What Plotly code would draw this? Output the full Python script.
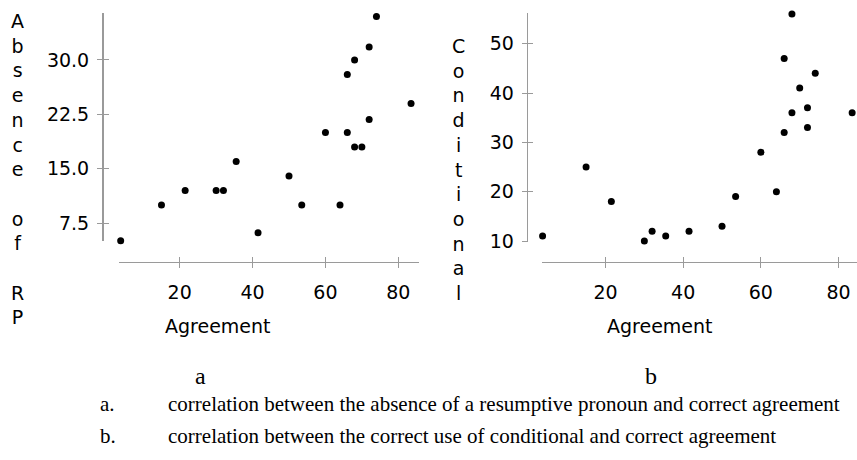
import plotly.graph_objects as go

# ---- data ----
agreement = [3.8, 15, 21.5, 30, 32, 35.5, 41.5, 50, 53.5, 60, 64, 66, 66, 68, 68, 70, 72, 72, 74, 83.5]
absence_rp = [5.1, 10, 12, 12, 12, 16, 6.2, 14, 10, 20, 10, 28, 20, 30, 18, 18, 31.8, 21.8, 36, 24]
conditional = [11, 25, 18, 10, 12, 11, 12, 13, 19, 28, 20, 47, 32, 56, 36, 41, 37, 33, 44, 36]

x_ticks = [20, 40, 60, 80]
y_ticks_a = [7.5, 15, 22.5, 30]
y_ticks_b = [10, 20, 30, 40, 50]

W, H = 857, 460

def px_x(p):
    return p / W

def px_y(p):
    return 1 - p / H

AXIS_GREY = "#9a9a9a"
TICK_FONT = dict(family="DejaVu Sans", size=19, color="#000000")

fig = go.Figure()

marker = dict(color="black", size=7)
fig.add_trace(go.Scatter(x=agreement, y=absence_rp, mode="markers", marker=marker,
                         xaxis="x", yaxis="y", cliponaxis=False, showlegend=False, hoverinfo="x+y"))
fig.add_trace(go.Scatter(x=agreement, y=conditional, mode="markers", marker=marker,
                         xaxis="x2", yaxis="y2", cliponaxis=False, showlegend=False, hoverinfo="x+y"))
# empty traces so overlay axes (inner halves of the crossing ticks) get drawn
fig.add_trace(go.Scatter(x=[], y=[], xaxis="x3", yaxis="y3", showlegend=False))
fig.add_trace(go.Scatter(x=[], y=[], xaxis="x4", yaxis="y4", showlegend=False))

xr_a = [3.34, 85.68]
yr_a = [5.0, 36.476]
xr_b = [3.7, 84.75]
yr_b = [9.858, 56.16]

xdom_a = [px_x(119), px_x(419)]
ydom_a = [px_y(241.4), px_y(13)]
xdom_b = [px_x(542.2), 1.0]
ydom_b = [px_y(241.7), px_y(13.3)]

xpos = px_y(262.3)
ypos_a = px_x(103)
ypos_b = px_x(526.7)

common_x = dict(showgrid=False, zeroline=False, ticks="outside", ticklen=5, tickwidth=1,
                tickcolor=AXIS_GREY, showline=True, linecolor=AXIS_GREY, linewidth=1,
                tickfont=TICK_FONT, anchor="free", position=xpos, tickvals=x_ticks,
                ticklabelstandoff=8)
common_y = dict(showgrid=False, zeroline=False, ticks="outside", ticklen=5, tickwidth=1,
                tickcolor=AXIS_GREY, showline=True, linecolor=AXIS_GREY,
                tickfont=TICK_FONT, anchor="free", ticklabelstandoff=4)

inner_x = dict(showgrid=False, zeroline=False, ticks="inside", ticklen=5, tickwidth=1,
               tickcolor=AXIS_GREY, showline=False, showticklabels=False,
               anchor="free", position=xpos, tickvals=x_ticks)
inner_y = dict(showgrid=False, zeroline=False, ticks="inside", ticklen=5, tickwidth=1,
               tickcolor=AXIS_GREY, showline=False, showticklabels=False, anchor="free")

fig.update_layout(
    width=W, height=H,
    margin=dict(l=0, r=0, t=0, b=0, autoexpand=False),
    paper_bgcolor="white", plot_bgcolor="rgba(0,0,0,0)",
    xaxis=dict(domain=xdom_a, range=xr_a, **common_x),
    yaxis=dict(domain=ydom_a, range=yr_a, position=ypos_a, tickvals=y_ticks_a,
               tickformat=".1f", linewidth=2, **common_y),
    xaxis2=dict(domain=xdom_b, range=xr_b, **common_x),
    yaxis2=dict(domain=ydom_b, range=yr_b, position=ypos_b, tickvals=y_ticks_b,
                linewidth=1, **common_y),
    xaxis3=dict(domain=xdom_a, range=xr_a, overlaying="x", **inner_x),
    yaxis3=dict(domain=ydom_a, range=yr_a, overlaying="y", position=ypos_a,
                tickvals=y_ticks_a, **inner_y),
    xaxis4=dict(domain=xdom_b, range=xr_b, overlaying="x2", **inner_x),
    yaxis4=dict(domain=ydom_b, range=yr_b, overlaying="y2", position=ypos_b,
                tickvals=y_ticks_b, **inner_y),
)

ann_font = dict(family="DejaVu Sans", size=19, color="#000000")
serif_font = dict(family="Liberation Serif", size=21, color="#000000")
label_font = dict(family="Liberation Serif", size=24, color="#000000")

def add_text(text, x, y, font, xanchor="center", yanchor="middle", align="center"):
    fig.add_annotation(text=text, x=x, y=y, xref="paper", yref="paper", showarrow=False,
                       xanchor=xanchor, yanchor=yanchor, align=align, font=font)

nb = "\u00a0"
title_a = "<br>".join(["A", "b", "s", "e", "n", "c", "e", nb, "o", "f", nb, "R", "P"])
title_b = "<br>".join(list("Conditional"))

add_text(title_a, px_x(17.7), px_y(168.7), ann_font)
add_text(title_b, px_x(458.3), px_y(169), ann_font)
add_text("Agreement", px_x(218), px_y(326), ann_font)
add_text("Agreement", px_x(660), px_y(326), ann_font)

add_text("a", px_x(200), px_y(376), label_font)
add_text("b", px_x(651), px_y(376), label_font)

add_text("a.", px_x(98), px_y(404), serif_font, xanchor="left")
add_text("correlation between the absence of a resumptive pronoun and correct agreement",
         px_x(166), px_y(404), serif_font, xanchor="left")
add_text("b.", px_x(98), px_y(436), serif_font, xanchor="left")
add_text("correlation between the correct use of conditional and correct agreement",
         px_x(166), px_y(436), serif_font, xanchor="left")

fig.write_html("out.html",
               config={"displayModeBar": False},
               post_script="document.body.style.margin='0';document.body.style.overflow='hidden';")
